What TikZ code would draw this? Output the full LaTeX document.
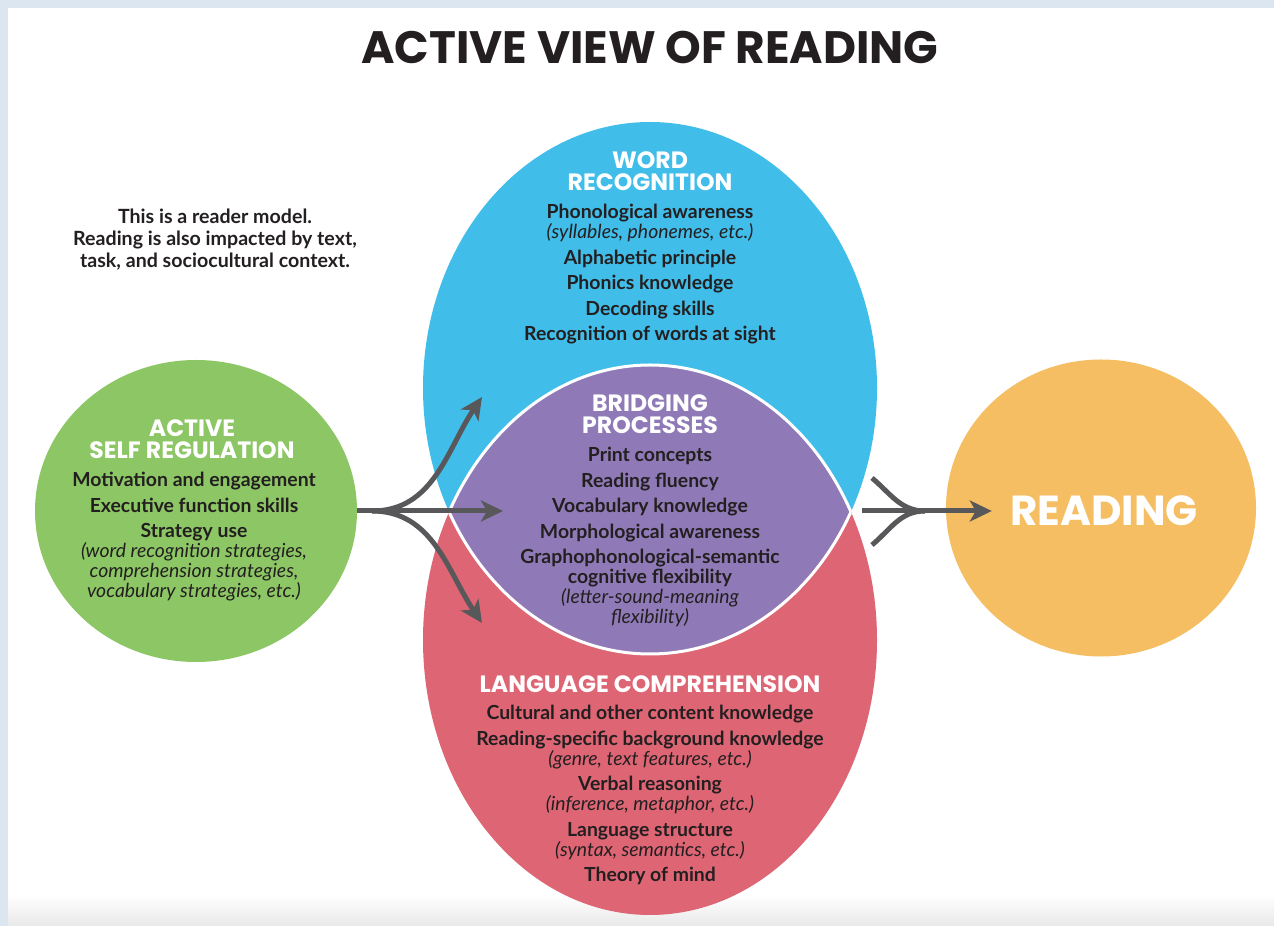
\documentclass[tikz,border=0pt]{standalone}
\usepackage{fontspec}
\setmainfont{Lato}
\newfontfamily\headfont{Poppins}
\usetikzlibrary{arrows.meta,positioning,shapes.geometric}

\definecolor{wrblue}{HTML}{41BDE9}
\definecolor{bppurple}{HTML}{8F7AB7}
\definecolor{lcred}{HTML}{DE6574}
\definecolor{asrgreen}{HTML}{8DC665}
\definecolor{rdorange}{HTML}{F6BE62}
\definecolor{arrowgray}{HTML}{58585A}
\definecolor{inkdark}{HTML}{231F20}
\definecolor{framebg}{HTML}{DCE6F1}

\tikzset{
  head/.style={font=\headfont\bfseries\fontsize{11.8}{11}\selectfont, text=white, align=center, inner sep=0pt},
  items/.style={font=\bfseries\fontsize{9.7}{10}\selectfont, text=inkdark, align=center, inner sep=0pt, anchor=north},
  flow/.style={draw=arrowgray, line width=2.5pt, -{Stealth[length=11pt,width=10.5pt,inset=3pt]}},
  fork/.style={draw=arrowgray, line width=2.5pt},
}
\newcommand{\eg}[1]{{\mdseries\itshape #1}}

\begin{document}
\begin{tikzpicture}[x=0.5pt, y=0.5pt]
  % frame
  \fill[framebg] (0,0) rectangle (1274,926);
  \fill[white] (8,31) rectangle (1274,918);
  \shade[top color=white, bottom color=black!9] (8,0) rectangle (1274,31);
  \useasboundingbox (0,0) rectangle (1274,926);

  \node[font=\headfont\bfseries\fontsize{22.7}{24}\selectfont, text=inkdark] (title) at (650,878) {ACTIVE VIEW OF READING};
  \node[font=\bfseries\fontsize{9.8}{11}\selectfont, text=inkdark, align=center] (note) at (215,686)
    {This is a reader model.\\Reading is also impacted by text,\\task, and sociocultural context.};

  % word recognition and language comprehension
  \coordinate (wrc) at (650,538);
  \coordinate (lcc) at (650,286);
  \fill[wrblue] (wrc) ellipse [x radius=227, y radius=266];
  \fill[lcred] (lcc) ellipse [x radius=227, y radius=275];
  \begin{scope}
    \clip (wrc) ellipse [x radius=227, y radius=266];
    \fill[bppurple] (lcc) ellipse [x radius=227, y radius=275];
    \draw[white, line width=1.5pt] (lcc) ellipse [x radius=227, y radius=275];
  \end{scope}
  \begin{scope}
    \clip (lcc) ellipse [x radius=227, y radius=275];
    \draw[white, line width=1.5pt] (wrc) ellipse [x radius=227, y radius=266];
  \end{scope}

  \node[ellipse, fill=asrgreen, minimum width=161pt, minimum height=151pt, inner sep=0pt] (asr) at (196,415) {};
  \node[ellipse, fill=rdorange, minimum width=155pt, minimum height=148.5pt, inner sep=0pt] (rd) at (1101,418) {};

  \node[head] (wrhead) at (650,755) {WORD\\RECOGNITION};
  \node[items] (wrlist) at (650,722) {Phonological awareness\\\eg{(syllables, phonemes, etc.)}\\[2.75pt]Alphabetic principle\\[2.75pt]Phonics knowledge\\[2.75pt]Decoding skills\\[2.75pt]Recognition of words at sight};

  \node[head] (bphead) at (650,512) {BRIDGING\\PROCESSES};
  \node[items] (bplist) at (650,479) {Print concepts\\[2.75pt]Reading fluency\\[2.75pt]Vocabulary knowledge\\[2.75pt]Morphological awareness\\[2.75pt]Graphophonological-semantic\\cognitive flexibility\\\eg{(letter-sound-meaning}\\\eg{flexibility)}};

  \node[head] (asrhead) at (192,486.5) {ACTIVE\\SELF REGULATION};
  \node[items] (asrlist) at (194,454) {Motivation and engagement\\[2.75pt]Executive function skills\\[2.75pt]Strategy use\\\eg{(word recognition strategies,}\\\eg{comprehension strategies,}\\\eg{vocabulary strategies, etc.)}};

  \node[head] (lchead) at (650,242) {LANGUAGE COMPREHENSION};
  \node[items] (lclist) at (650,221) {Cultural and other content knowledge\\[2.75pt]Reading-specific background knowledge\\\eg{(genre, text features, etc.)}\\[2.75pt]Verbal reasoning\\\eg{(inference, metaphor, etc.)}\\[2.75pt]Language structure\\\eg{(syntax, semantics, etc.)}\\[2.75pt]Theory of mind};

  \node[head, font=\headfont\bfseries\fontsize{21}{22}\selectfont] (rdtxt) at (1104,415) {READING};

  % arrows
  \coordinate (fork) at (372,415);
  \coordinate (bptip) at (503,415);
  \coordinate (wrtip) at (482,529);
  \coordinate (lctip) at (482,303);
  \draw[flow] (asr.east) -- (bptip);
  \draw[flow] (fork) to[out=0, in=236] (wrtip);
  \draw[flow] (fork) to[out=0, in=124] (lctip);

  \coordinate (mixout) at (862,415);
  \coordinate (topin) at (872,448);
  \coordinate (botin) at (872,381);
  \coordinate (join) at (925,415);
  \draw[flow, shorten >=9pt] (mixout) -- (rdtxt.west);
  \draw[fork] (topin) to[out=-40, in=180] (join);
  \draw[fork] (botin) to[out=40, in=180] (join);
\end{tikzpicture}
\end{document}
